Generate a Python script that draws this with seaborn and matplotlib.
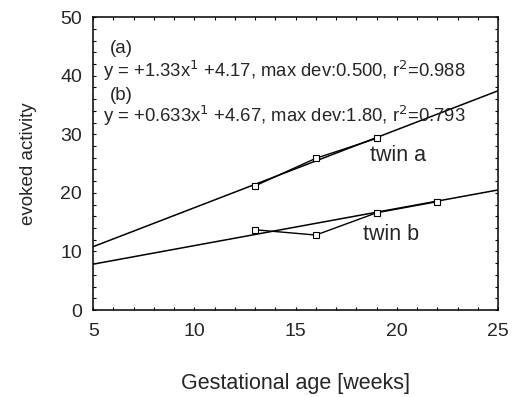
import matplotlib
matplotlib.use("Agg")
import matplotlib.pyplot as plt
import seaborn as sns
import numpy as np
import pandas as pd
from matplotlib.ticker import MultipleLocator

weeks_a = [13, 16, 19]
act_a = [21.2, 25.9, 29.3]
weeks_b = [13, 16, 19, 22]
act_b = [13.7, 12.8, 16.6, 18.5]
fit_slope = [1.33, 0.633]
fit_icpt = [4.17, 4.67]
fit_labels = ["(a)", "(b)"]
fit_texts = ["y = +1.33x$^{1}$ +4.17, max dev:0.500, r$^{2}$=0.988",
             "y = +0.633x$^{1}$ +4.67, max dev:1.80, r$^{2}$=0.793"]
xlim = [5, 25]

sns.set_style("white")
plt.rcParams['font.family'] = ['Liberation Sans', 'DejaVu Sans']

fig = plt.figure(figsize=(5.15, 3.97), dpi=100)
ax = fig.add_axes([0.181, 0.219, 0.786, 0.738])

for s, c in zip(fit_slope, fit_icpt):
    xs = np.array(xlim, dtype=float)
    sns.lineplot(x=xs, y=s * xs + c, ax=ax, color="black", lw=1.1)

df_a = pd.DataFrame({"w": weeks_a, "v": act_a})
df_b = pd.DataFrame({"w": weeks_b, "v": act_b})
for df in (df_a, df_b):
    sns.lineplot(data=df, x="w", y="v", ax=ax, color="black", lw=1.0,
                 marker="s", markersize=4, markerfacecolor="white",
                 markeredgecolor="black", markeredgewidth=0.8)

ax.set_xlim(*xlim)
ax.set_ylim(0, 50)
ax.xaxis.set_major_locator(MultipleLocator(5))
ax.yaxis.set_major_locator(MultipleLocator(10))
ax.xaxis.set_minor_locator(MultipleLocator(1))
ax.yaxis.set_minor_locator(MultipleLocator(2))
ax.tick_params(which="both", direction="in", top=True, right=True,
               bottom=True, left=True, length=2, width=0.8, color="black")
ax.tick_params(which="major", labelsize=14)
ax.tick_params(axis="x", which="major", pad=9)
ax.tick_params(axis="y", which="major", pad=8)
for sp in ax.spines.values():
    sp.set_color("black")
    sp.set_linewidth(1.1)

ax.set_xlabel("Gestational age [weeks]", fontsize=15.5, labelpad=24)
ax.set_ylabel("evoked activity", fontsize=13.5, labelpad=17)

ax.text(5.84, 44.6, fit_labels[0], fontsize=13.5, va="center")
ax.text(5.5, 40.8, fit_texts[0], fontsize=13.3, va="center")
ax.text(5.84, 36.6, fit_labels[1], fontsize=13.5, va="center")
ax.text(5.5, 33.2, fit_texts[1], fontsize=13.3, va="center")
ax.text(18.68, 26.45, "twin a", fontsize=15.5, va="center")
ax.text(18.33, 12.9, "twin b", fontsize=15.5, va="center")

fig.savefig("out.png", dpi=100)
